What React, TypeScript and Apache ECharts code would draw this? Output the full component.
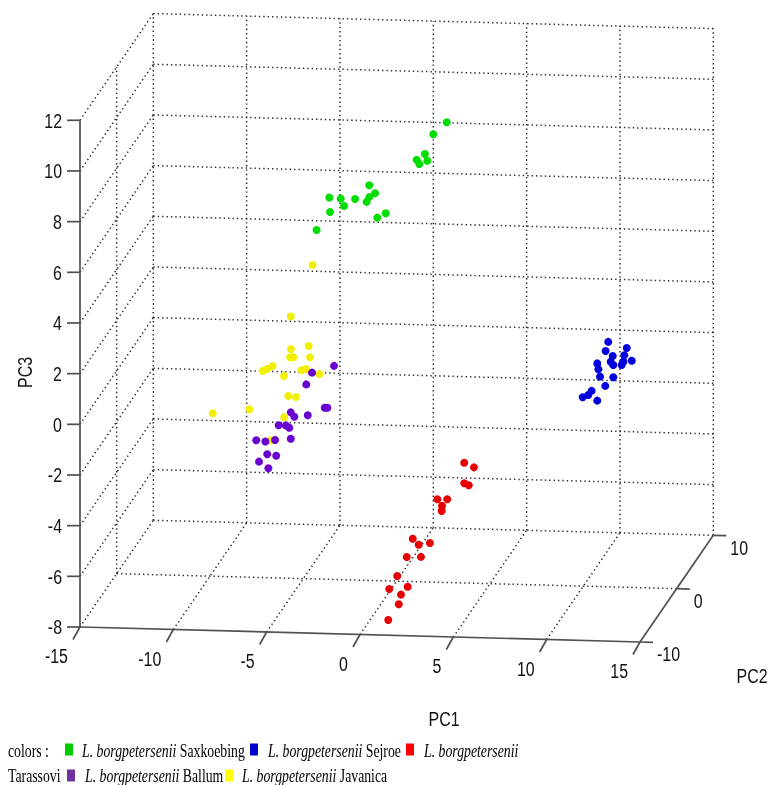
import React, { useEffect, useRef } from "react";
import * as echarts from "echarts";

// ---- axes ----
const PC1_TICKS = [-15, -10, -5, 0, 5, 10, 15];
const PC2_TICKS = [-10, 0, 10];
const PC3_TICKS = [-8, -6, -4, -2, 0, 2, 4, 6, 8, 10, 12];

// ---- legend ----
const GENUS = "L. borgpetersenii";
const GROUP_NAMES = ["Saxkoebing", "Sejroe", "Tarassovi", "Ballum", "Javanica"];

// ---- data (PC1, PC2, PC3) ----
const saxPC1 = [2.29, 1.57, 1.12, 1.25, 0.68, 0.82, -1.86, -1.55, -1.86, -2.0, -2.62, -3.39, -3.21, -4.0, -3.96, -1.43, -0.98, -4.68];
const saxPC2 = [2, 2, 2, 2, 2, 2, 2, 2, 2, 2, 2, 2, 2, 2, 2, 2, 2, 2];
const saxPC3 = [9.74, 9.25, 8.46, 8.2, 8.22, 8.06, 7.17, 6.86, 6.7, 6.51, 6.61, 6.61, 6.32, 6.64, 6.07, 5.9, 6.08, 5.35];

const sejPC1 = [10.55, 11.54, 10.41, 10.79, 11.41, 10.68, 10.82, 11.36, 11.27, 11.81, 9.96, 10.02, 10.11, 10.82, 10.39, 9.66, 9.48, 9.18, 9.96];
const sejPC2 = [4, 4, 4, 4, 4, 4, 4, 4, 4, 4, 4, 4, 4, 4, 4, 4, 4, 4, 4];
const sejPC3 = [0.81, 0.59, 0.45, 0.26, 0.3, 0.03, -0.1, 0.05, -0.09, 0.09, -0.05, -0.28, -0.57, -0.58, -0.93, -1.14, -1.31, -1.4, -1.52];

const tarPC1 = [4.8, 5.32, 4.8, 5.04, 3.36, 3.89, 3.61, 3.59, 2.04, 2.36, 2.96, 1.72, 2.48, 1.21, 0.78, 1.77, 1.41, 1.29, 1.12];
const tarPC2 = [-6, -6, -6, -6, -6, -6, -6, -6, -6, -6, -6, -6, -6, -6, -6, -6, -6, -6, -8];
const tarPC3 = [-1.97, -2.14, -2.78, -2.85, -3.44, -3.43, -3.69, -3.9, -5.02, -5.25, -5.17, -5.75, -5.73, -6.51, -7.03, -6.92, -7.24, -7.62, -7.83];

const balPC1 = [-2.96, -4.14, -4.45, -5.28, -5.09, -4.37, -3.46, -3.32, -5.93, -5.54, -5.36, -5.28, -7.13, -6.64, -6.12, -6.54, -6.06, -6.98, -6.48];
const balPC2 = [-2, -2, -2, -2, -2, -2, -2, -2, -2, -2, -2, -2, -2, -2, -2, -2, -2, -2, -2];
const balPC3 = [0.86, 0.57, 0.1, -1.02, -1.19, -1.12, -0.8, -0.8, -1.54, -1.54, -1.63, -2.06, -2.16, -2.2, -2.13, -2.7, -2.75, -3.0, -3.25];

const javPC1 = [-4.11, -5.28, -5.27, -4.32, -5.32, -5.14, -4.25, -6.78, -6.54, -6.25, -5.64, -4.69, -4.46, -3.75, -5.41, -5.0, -7.5, -9.46, -5.63, -6.34];
const javPC2 = [-2, -2, -2, -2, -2, -2, -2, -2, -2, -2, -2, -2, -2, -2, -2, -2, -2, -2, -2, -2];
const javPC3 = [4.82, 2.76, 1.48, 1.62, 1.15, 1.16, 1.17, 0.58, 0.67, 0.79, 0.41, 0.66, 0.71, 0.52, -0.38, -0.41, -0.94, -1.14, -1.22, -2.14];

// ---- view (oblique projection of the 3D box onto the page) ----
const R1: [number, number] = [-15, 15];
const R2: [number, number] = [-10, 10];
const R3: [number, number] = [-8, 12];
const ORIGIN = [80, 627];
const V1 = [560, 15]; // full PC1 range
const V2 = [73.3, -106.7]; // full PC2 range
const V3 = [0, -506.7]; // full PC3 range

function project(x: number, y: number, z: number): [number, number] {
  const a = (x - R1[0]) / (R1[1] - R1[0]);
  const b = (y - R2[0]) / (R2[1] - R2[0]);
  const c = (z - R3[0]) / (R3[1] - R3[0]);
  return [ORIGIN[0] + a * V1[0] + b * V2[0] + c * V3[0], ORIGIN[1] + a * V1[1] + b * V2[1] + c * V3[1]];
}

function pts(p1: number[], p2: number[], p3: number[]) {
  return p1.map((v, i) => project(v, p2[i], p3[i]));
}

const LABEL_FONT = { fontFamily: "Liberation Sans, Arial, sans-serif", fontSize: 21, fill: "#111" };
const LABEL_SX = 0.76;

export default function App() {
  const ref = useRef<HTMLDivElement>(null);
  useEffect(() => {
    if (!ref.current) return;
    const chart = echarts.init(ref.current, null, { renderer: "svg" });

    const frameRender = (_params: any, api: any) => {
      const P = (x: number, y: number, z: number) => api.coord(project(x, y, z));
      const children: any[] = [];
      const dotted = { stroke: "#2e2e2e", lineWidth: 1.5, lineDash: [1.4, 3], fill: null };
      const solid = { stroke: "#505050", lineWidth: 1.7, fill: null };
      const seg = (a: number[], b: number[], style: any) =>
        children.push({ type: "line", shape: { x1: a[0], y1: a[1], x2: b[0], y2: b[1] }, style });
      const txt = (x: number, y: number, text: string, align: string, extra: any = {}) =>
        children.push({
          type: "text",
          x,
          y,
          scaleX: LABEL_SX,
          ...extra,
          style: { text, x: 0, y: 0, align, verticalAlign: "middle", ...LABEL_FONT },
        });

      const [x0, x1] = R1;
      const [y0, y1] = R2;
      const [z0, z1] = R3;
      // back wall (PC2 = max)
      PC1_TICKS.forEach((t) => seg(P(t, y1, z0), P(t, y1, z1), dotted));
      PC3_TICKS.forEach((z) => seg(P(x0, y1, z), P(x1, y1, z), dotted));
      // left wall (PC1 = min)
      PC2_TICKS.filter((p) => p > y0 && p < y1).forEach((p) => seg(P(x0, p, z0), P(x0, p, z1), dotted));
      PC3_TICKS.filter((z) => z > z0).forEach((z) => seg(P(x0, y0, z), P(x0, y1, z), dotted));
      // floor (PC3 = min)
      PC1_TICKS.filter((t) => t < x1).forEach((t) => seg(P(t, y0, z0), P(t, y1, z0), dotted));
      PC2_TICKS.filter((p) => p > y0 && p < y1).forEach((p) => seg(P(x0, p, z0), P(x1, p, z0), dotted));

      // solid axes
      seg(P(x0, y0, z0), P(x0, y0, z1), solid);
      seg(P(x0, y0, z0), P(x1, y0, z0), solid);
      seg(P(x1, y0, z0), P(x1, y1, z0), solid);

      // PC3 ticks + labels
      PC3_TICKS.forEach((z) => {
        const a = P(x0, y0, z);
        seg(a, [a[0] - 13, a[1]], solid);
        txt(a[0] - 18, a[1], String(z), "right");
      });
      // PC1 ticks + labels
      PC1_TICKS.forEach((t) => {
        const a = P(t, y0, z0);
        seg(a, [a[0] - 7, a[1] + 12.5], solid);
        txt(a[0] - 12, a[1] + 29, String(t), "right");
      });
      // PC2 ticks + labels
      PC2_TICKS.forEach((p) => {
        const a = P(x1, p, z0);
        seg(a, [a[0] + 13, a[1] + 0.4], solid);
        txt(a[0] + 17, a[1] + 12, String(p), "left");
      });
      // axis titles
      const c = api.coord([0, 0]);
      txt(c[0] + 444, c[1] + 719, "PC1", "center");
      txt(c[0] + 752, c[1] + 676, "PC2", "center");
      children.push({
        type: "text",
        x: c[0] + 25,
        y: c[1] + 372.5,
        rotation: Math.PI / 2,
        scaleX: LABEL_SX,
        style: { text: "PC3", x: 0, y: 0, align: "center", verticalAlign: "middle", ...LABEL_FONT },
      });
      return { type: "group", children };
    };

    const serif = "Liberation Serif, Times New Roman, serif";
    const FS = 18;
    const SX = 0.765;
    const LH = 16;
    const rich = {
      i: { fontStyle: "italic", fontSize: FS, lineHeight: LH, fontFamily: serif, fill: "#000" },
      r: { fontStyle: "normal", fontSize: FS, lineHeight: LH, fontFamily: serif, fill: "#000" },
    };
    const legendText = (x: number, y: number, text: string) => ({
      type: "text",
      x,
      y,
      scaleX: SX,
      style: {
        text,
        rich,
        x: 0,
        y: 0,
        fontSize: FS,
        lineHeight: LH,
        fontFamily: serif,
        fill: "#000",
        verticalAlign: "middle",
      },
    });
    const sq = (x: number, y: number, color: string) => ({
      type: "rect",
      shape: { x, y: y - 6, width: 8, height: 12 },
      style: { fill: color },
    });
    const LEG_COLORS = ["#00cc00", "#0000cc", "#ff0000", "#7030a0", "#ffff00"];
    const L1 = 750.5;
    const L2 = 775.5;

    const graphic = [
      legendText(8, L1, "{r|colors :}"),
      sq(65, L1 - 1, LEG_COLORS[0]),
      legendText(82, L1, `{i|${GENUS}}{r| ${GROUP_NAMES[0]}}`),
      sq(250, L1 - 1, LEG_COLORS[1]),
      legendText(268, L1, `{i|${GENUS}}{r| ${GROUP_NAMES[1]}}`),
      sq(406, L1 - 1, LEG_COLORS[2]),
      legendText(424, L1, `{i|${GENUS}}`),
      legendText(8, L2, `{r|${GROUP_NAMES[2]}}`),
      sq(67, L2, LEG_COLORS[3]),
      legendText(85, L2, `{i|${GENUS}}{r| ${GROUP_NAMES[3]}}`),
      sq(225, L2, LEG_COLORS[4]),
      legendText(242, L2, `{i|${GENUS}}{r| ${GROUP_NAMES[4]}}`),
    ];

    const scatter = (name: string, data: number[][], color: string) => ({
      name,
      type: "scatter",
      data,
      symbol: "circle",
      symbolSize: 8,
      itemStyle: { color, opacity: 1 },
      z: 3,
    });

    chart.setOption({
      animation: false,
      grid: { left: 0, right: 0, top: 0, bottom: 0 },
      xAxis: { type: "value", min: 0, max: 772, show: false },
      yAxis: { type: "value", min: 0, max: 785, inverse: true, show: false },
      graphic,
      series: [
        { type: "custom", data: [[0, 0]], renderItem: frameRender, clip: false, silent: true, z: 1 },
        scatter(GROUP_NAMES[0], pts(saxPC1, saxPC2, saxPC3), "#00dd00"),
        scatter(GROUP_NAMES[1], pts(sejPC1, sejPC2, sejPC3), "#0000dd"),
        scatter(GROUP_NAMES[2], pts(tarPC1, tarPC2, tarPC3), "#e60000"),
        scatter(GROUP_NAMES[4], pts(javPC1, javPC2, javPC3), "#f0f000"),
        scatter(GROUP_NAMES[3], pts(balPC1, balPC2, balPC3), "#6a00d0"),
      ],
    });
    return () => chart.dispose();
  }, []);
  return <div ref={ref} style={{ position: "fixed", left: 0, top: 0, width: 772, height: 785 }} />;
}
